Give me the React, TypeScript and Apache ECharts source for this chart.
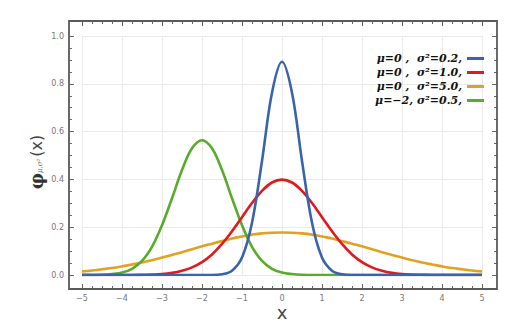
import React, { useEffect, useRef } from "react";
import * as echarts from "echarts";

const xs = [-5, -4.75, -4.5, -4.25, -4, -3.75, -3.5, -3.25, -3, -2.75, -2.5, -2.25, -2, -1.75, -1.5, -1.25, -1, -0.75, -0.5, -0.25, 0, 0.25, 0.5, 0.75, 1, 1.25, 1.5, 1.75, 2, 2.25, 2.5, 2.75, 3, 3.25, 3.5, 3.75, 4, 4.25, 4.5, 4.75, 5];

const blueVals = [0, 0, 0, 0, 0, 0, 0, 0, 0, 0, 0, 0, 0, 0, 0.003, 0.018, 0.073, 0.219, 0.477, 0.763, 0.892, 0.763, 0.477, 0.219, 0.073, 0.018, 0.003, 0, 0, 0, 0, 0, 0, 0, 0, 0, 0, 0, 0, 0, 0];
const redVals = [0, 0, 0, 0, 0, 0, 0.001, 0.002, 0.004, 0.009, 0.018, 0.032, 0.054, 0.086, 0.13, 0.183, 0.242, 0.301, 0.352, 0.387, 0.399, 0.387, 0.352, 0.301, 0.242, 0.183, 0.13, 0.086, 0.054, 0.032, 0.018, 0.009, 0.004, 0.002, 0.001, 0, 0, 0, 0, 0, 0];
const orangeVals = [0.015, 0.019, 0.024, 0.029, 0.036, 0.044, 0.052, 0.062, 0.073, 0.084, 0.095, 0.108, 0.12, 0.131, 0.142, 0.153, 0.161, 0.169, 0.174, 0.177, 0.178, 0.177, 0.174, 0.169, 0.161, 0.153, 0.142, 0.131, 0.12, 0.108, 0.095, 0.084, 0.073, 0.062, 0.052, 0.044, 0.036, 0.029, 0.024, 0.019, 0.015];
const greenVals = [0, 0, 0.001, 0.004, 0.01, 0.026, 0.059, 0.118, 0.208, 0.321, 0.439, 0.53, 0.564, 0.53, 0.439, 0.321, 0.208, 0.118, 0.059, 0.026, 0.01, 0.004, 0.001, 0, 0, 0, 0, 0, 0, 0, 0, 0, 0, 0, 0, 0, 0, 0, 0, 0, 0];

const seriesNames = ["μ=0 ,  σ²=0.2,", "μ=0 ,  σ²=1.0,", "μ=0 ,  σ²=5.0,", "μ=−2, σ²=0.5,"];
const seriesColors = ["#3a63ad", "#e2191c", "#e2a120", "#5aab2b"];
const seriesValues = [blueVals, redVals, orangeVals, greenVals];

export default function App() {
  const ref = useRef<HTMLDivElement>(null);
  useEffect(() => {
    if (!ref.current) return;
    const chart = echarts.init(ref.current, null, { renderer: "svg" });
    const tickColor = "#666";
    const gridColor = "#ebebeb";
    const commonX = {
      type: "value",
      min: -5,
      max: 5,
      interval: 1,
      axisLine: { show: false, onZero: false },
      axisTick: { show: true, inside: true, length: 5, lineStyle: { color: tickColor, width: 1 } },
      minorTick: { show: true, splitNumber: 4, length: 3, lineStyle: { color: tickColor, width: 1 } },
    };
    const commonY = {
      type: "value",
      min: 0,
      max: 1,
      interval: 0.2,
      axisLine: { show: false, onZero: false },
      axisTick: { show: true, inside: true, length: 5, lineStyle: { color: tickColor, width: 1 } },
      minorTick: { show: true, splitNumber: 4, length: 3, lineStyle: { color: tickColor, width: 1 } },
    };
    chart.setOption({
      animation: false,
      backgroundColor: "#ffffff",
      grid: { left: 82, right: 45, top: 36, bottom: 53, containLabel: false },
      xAxis: [
        {
          ...commonX,
          position: "bottom",
          offset: 14,
          splitLine: { show: true, lineStyle: { color: gridColor, width: 1 } },
          axisLabel: { color: "#777", fontSize: 8, margin: 5, fontFamily: "DejaVu Sans", formatter: (v: number) => (v < 0 ? "−" + Math.abs(v) : String(v)) },
        },
        {
          ...commonX,
          position: "top",
          offset: 15,
          splitLine: { show: false },
          axisLabel: { show: false },
        },
      ],
      yAxis: [
        {
          ...commonY,
          position: "left",
          offset: 13,
          splitLine: { show: true, lineStyle: { color: gridColor, width: 1 } },
          axisLabel: { color: "#777", fontSize: 8, margin: 5, fontFamily: "DejaVu Sans", formatter: (v: number) => v.toFixed(1) },
        },
        {
          ...commonY,
          position: "right",
          offset: 15,
          splitLine: { show: false },
          axisLabel: { show: false },
        },
      ],
      legend: {
        orient: "vertical",
        right: 43,
        top: 52,
        align: "right",
        icon: "rect",
        itemWidth: 17,
        itemHeight: 3,
        itemGap: 1,
        padding: 0,
        textStyle: { fontFamily: "DejaVu Serif", fontWeight: "bold", fontStyle: "italic", fontSize: 11, color: "#111", lineHeight: 13 },
        data: seriesNames,
      },
      graphic: [
        {
          type: "rect",
          shape: { x: 69, y: 21, width: 428, height: 268 },
          style: { fill: "none", stroke: "#5a5a5a", lineWidth: 1.8 },
          z: 100,
          silent: true,
        },
        {
          type: "text",
          x: 36,
          y: 162,
          rotation: Math.PI / 2,
          style: {
            text: "{a|φ}{b|μ,σ²}{c|(x)}",
            align: "center",
            verticalAlign: "middle",
            rich: {
              a: { fontSize: 18, fontFamily: "DejaVu Serif", fill: "#333", fontWeight: "bold" },
              b: { fontSize: 7, fontFamily: "DejaVu Serif", fill: "#666", fontStyle: "italic", padding: [8, 2, 0, 0] },
              c: { fontSize: 16, fontFamily: "DejaVu Sans", fill: "#444" },
            },
          },
        },
        {
          type: "text",
          x: 282,
          y: 312,
          style: { text: "x", align: "center", verticalAlign: "middle", fontSize: 18, fontFamily: "DejaVu Sans", fill: "#444" },
        },
      ],
      series: seriesNames.map((name, i) => ({
        name,
        type: "line",
        data: xs.map((x, j) => [x, seriesValues[i][j]]),
        smooth: 0.35,
        showSymbol: false,
        symbol: "none",
        lineStyle: { width: 2.6, color: seriesColors[i] },
        itemStyle: { color: seriesColors[i] },
        z: [5, 4, 2, 3][i],
      })),
    });
    return () => chart.dispose();
  }, []);
  return <div ref={ref} style={{ position: "absolute", left: 0, top: 0, width: 527, height: 328 }} />;
}
